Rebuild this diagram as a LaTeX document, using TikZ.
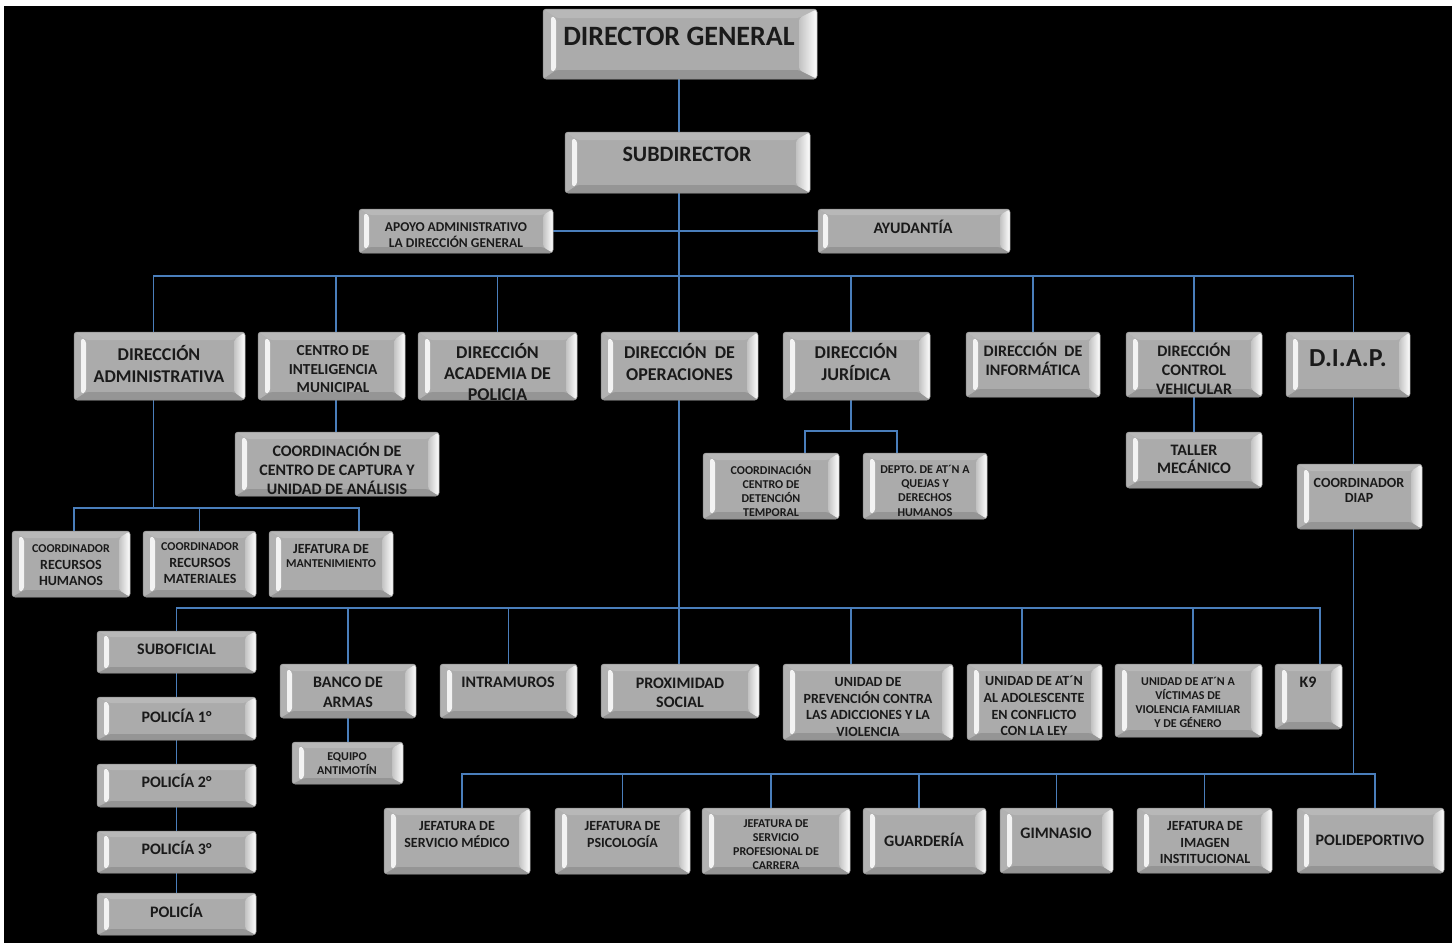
\documentclass[tikz,border=0pt]{standalone}
\usepackage{fontspec}
\setmainfont{Carlito}
\usetikzlibrary{calc}
\definecolor{lineblue}{HTML}{4A7EBB}
\definecolor{face}{HTML}{ABABAB}
\definecolor{bevtop}{HTML}{B8B8B8}
\definecolor{bevleft}{HTML}{B2B2B2}
\definecolor{bevbot}{HTML}{959595}
\definecolor{bevright}{HTML}{C2C2C2}
\definecolor{edge}{HTML}{8A8A8A}
\definecolor{ink}{HTML}{1A1A1A}
\pgfdeclarelayer{bgl}
\pgfdeclarelayer{lines}
\pgfsetlayers{bgl,lines,main}
\newcommand\fs[2]{\fontsize{#1}{#2}\selectfont\bfseries}
\newcommand\bx[6][]{\node[box,#1,minimum width={(#5-#3)*1pt},minimum height={(#6-#4)*1pt}] (#2) at ({(#3+#5)/2},{(#4+#6)/2}) {};}
\tikzset{
  bvl/.store in=\bvl, bvr/.store in=\bvr, bvt/.store in=\bvt, bvb/.store in=\bvb,
  bvl=12, bvr=11, bvt=7, bvb=7,
  box/.style={rectangle, rounded corners=3pt, inner sep=0pt, fill=face, draw=edge, line width=0.5pt,
    path picture={
      \fill[bevtop] (path picture bounding box.north west) -- (path picture bounding box.north east)
         -- ([shift={(-\bvr pt,-\bvt pt)}]path picture bounding box.north east)
         -- ([shift={(\bvl pt,-\bvt pt)}]path picture bounding box.north west) -- cycle;
      \fill[bevbot] (path picture bounding box.south west) -- (path picture bounding box.south east)
         -- ([shift={(-\bvr pt,\bvb pt)}]path picture bounding box.south east)
         -- ([shift={(\bvl pt,\bvb pt)}]path picture bounding box.south west) -- cycle;
      \fill[bevleft] (path picture bounding box.north west)
         -- ([shift={(\bvl pt,-\bvt pt)}]path picture bounding box.north west)
         -- ([shift={(\bvl pt,\bvb pt)}]path picture bounding box.south west)
         -- (path picture bounding box.south west) -- cycle;
      \shade[left color=bevright, right color=white] (path picture bounding box.north east)
         -- ([shift={(-\bvr pt,-\bvt pt)}]path picture bounding box.north east)
         -- ([shift={(-\bvr pt,\bvb pt)}]path picture bounding box.south east)
         -- (path picture bounding box.south east) -- cycle;
      \fill[white, opacity=0.85] ([shift={(\bvl pt-5pt,-\bvt pt+2pt)}]path picture bounding box.north west)
         -- ([shift={(\bvl pt,-\bvt pt)}]path picture bounding box.north west)
         -- ([shift={(\bvl pt,\bvb pt)}]path picture bounding box.south west)
         -- ([shift={(\bvl pt-5pt,\bvb pt-2pt)}]path picture bounding box.south west) -- cycle;
    }},
  txt/.style={text=ink, align=center, inner sep=0pt},
  conn/.style={draw=lineblue, line width=1.5pt},
}
\begin{document}
\begin{tikzpicture}[x=1pt,y=-1pt]
\useasboundingbox (0,0) rectangle (1456,943);
\begin{pgfonlayer}{bgl}
\fill[white] (0,0) rectangle (1456,943);
\fill[black] (4,6) rectangle (1452,943);
\end{pgfonlayer}
% ---------- boxes ----------
\bx[bvl=13,bvr=18,bvt=9,bvb=9]{dg}{543}{9}{817}{79}
\bx[bvl=12,bvr=14,bvt=8,bvb=8]{sub}{565}{132}{810}{193}
\bx[bvl=10,bvr=10,bvt=6,bvb=6]{apoyo}{359}{209}{553}{253}
\bx[bvl=10,bvr=10,bvt=6,bvb=6]{ayud}{818}{209}{1010}{253}
\bx[bvt=8,bvb=8]{admin}{74}{332}{245}{400}
\bx[bvt=8,bvb=8]{cim}{258}{332}{405}{400}
\bx[bvt=8,bvb=8]{acad}{418}{332}{577}{400}
\bx[bvt=8,bvb=8]{ope}{601}{332}{758}{400}
\bx[bvt=8,bvb=8]{jur}{783}{332}{930}{400}
\bx[bvt=8,bvb=8]{inf}{966}{332}{1100}{397}
\bx[bvt=8,bvb=8]{cv}{1126}{332}{1262}{397}
\bx[bvt=8,bvb=8]{diap}{1286}{332}{1410}{397}
\bx{ccc}{235}{432}{439}{496}
\bx{taller}{1126}{432}{1262}{488}
\bx{ccd}{703}{453}{839}{519}
\bx{depto}{863}{453}{987}{519}
\bx{cdiap}{1297}{464}{1422}{529}
\bx{rrhh}{12}{531}{130}{597}
\bx{rmat}{143}{531}{256}{597}
\bx{mant}{269}{531}{393}{597}
\bx[bvt=6,bvb=6]{subof}{97}{631}{256}{673}
\bx[bvt=6,bvb=6]{pa}{97}{697}{256}{740}
\bx[bvt=6,bvb=6]{pb}{97}{764}{256}{807}
\bx[bvt=6,bvb=6]{pc}{97}{831}{256}{873}
\bx[bvt=6,bvb=6]{pol}{97}{893}{256}{935}
\bx{banco}{280}{664}{416}{718}
\bx[bvt=6,bvb=6]{equipo}{292}{742}{403}{784}
\bx{intra}{440}{664}{577}{718}
\bx{prox}{601}{664}{759}{718}
\bx{prev}{783}{664}{953}{740}
\bx{adol}{967}{664}{1102}{740}
\bx{vict}{1115}{664}{1262}{737}
\bx{k9}{1275}{664}{1342}{729}
\bx{medico}{384}{808}{530}{874}
\bx{psico}{555}{808}{690}{874}
\bx{carrera}{702}{808}{850}{874}
\bx{guard}{863}{808}{986}{874}
\bx{gim}{1000}{808}{1113}{873}
\bx{imagen}{1137}{808}{1272}{873}
\bx{poli}{1297}{808}{1444}{873}
% ---------- texts ----------
\node[txt,font=\fs{28}{34}] (dg-t) at (679,36) {DIRECTOR GENERAL};
\node[txt,font=\fs{22}{26}] (sub-t) at (687,154) {SUBDIRECTOR};
\node[txt,font=\fs{13.5}{16}] (apoyo-t) at (456,235) {APOYO ADMINISTRATIVO\\LA DIRECCIÓN GENERAL};
\node[txt,font=\fs{16}{19}] (ayud-t) at (913,227) {AYUDANTÍA};
\node[txt,font=\fs{18}{22}] (admin-t) at (159,364) {DIRECCIÓN\\ADMINISTRATIVA};
\node[txt,font=\fs{15.3}{18.5}] (cim-t) at (333,369.5) {CENTRO DE\\INTELIGENCIA\\MUNICIPAL};
\node[txt,font=\fs{18}{21}] (acad-t) at (497.5,372) {DIRECCIÓN\\ACADEMIA DE\\POLICIA};
\node[txt,font=\fs{18}{22}] (ope-t) at (679.5,362) {DIRECCIÓN\ \ DE\\OPERACIONES};
\node[txt,font=\fs{18}{22}] (jur-t) at (856,362) {DIRECCIÓN\\JURÍDICA};
\node[txt,font=\fs{16}{19}] (inf-t) at (1033,359.5) {DIRECCIÓN\ \ DE\\INFORMÁTICA};
\node[txt,font=\fs{16}{19}] (cv-t) at (1194,369) {DIRECCIÓN\\CONTROL\\VEHICULAR};
\node[txt,font=\fs{26}{30}] (diap-t) at (1348,358) {D.I.A.P.};
\node[txt,font=\fs{16}{19}] (ccc-t) at (337,469) {COORDINACIÓN DE\\CENTRO DE CAPTURA Y\\UNIDAD DE ANÁLISIS};
\node[txt,font=\fs{16}{18}] (taller-t) at (1194,459) {TALLER\\MECÁNICO};
\node[txt,font=\fs{12}{14.3}] (ccd-t) at (771,490.5) {COORDINACIÓN\\CENTRO DE\\DETENCIÓN\\TEMPORAL};
\node[txt,font=\fs{12}{14.3}] (depto-t) at (925,490.5) {DEPTO. DE AT´N A\\QUEJAS Y\\DERECHOS\\HUMANOS};
\node[txt,font=\fs{14}{15.6}] (cdiap-t) at (1359,490.5) {COORDINADOR\\DIAP};
\node[txt,font=\fs{14}{16.5}] (rrhh-t) at (71,565.5) {{\fs{12}{16.5}COORDINADOR}\\RECURSOS\\HUMANOS};
\node[txt,font=\fs{14}{16.5}] (rmat-t) at (200,563.5) {{\fs{12}{16.5}COORDINADOR}\\RECURSOS\\MATERIALES};
\node[txt,font=\fs{14}{14}] (mant-t) at (331,556) {JEFATURA DE\\{\fs{12}{14}MANTENIMIENTO}};
\node[txt,font=\fs{16}{19}] (subof-t) at (176.5,649) {SUBOFICIAL};
\node[txt,font=\fs{16}{19}] (pa-t) at (176.5,716) {POLICÍA 1°};
\node[txt,font=\fs{16}{19}] (pb-t) at (176.5,781) {POLICÍA 2°};
\node[txt,font=\fs{16}{19}] (pc-t) at (176.5,848) {POLICÍA 3°};
\node[txt,font=\fs{16}{19}] (pol-t) at (176.5,911) {POLICÍA};
\node[txt,font=\fs{16}{20}] (banco-t) at (348,692) {BANCO DE\\ARMAS};
\node[txt,font=\fs{12}{14}] (equipo-t) at (347,764) {EQUIPO\\ANTIMOTÍN};
\node[txt,font=\fs{16}{19}] (intra-t) at (508,682) {INTRAMUROS};
\node[txt,font=\fs{16}{19}] (prox-t) at (680,692.5) {PROXIMIDAD\\SOCIAL};
\node[txt,font=\fs{14}{16.7}] (prev-t) at (868,707) {UNIDAD DE\\PREVENCIÓN CONTRA\\LAS ADICCIONES Y LA\\VIOLENCIA};
\node[txt,font=\fs{14}{16.7}] (adol-t) at (1034,706) {UNIDAD DE AT´N\\AL ADOLESCENTE\\EN CONFLICTO\\CON LA LEY};
\node[txt,font=\fs{12}{14}] (vict-t) at (1188,702) {UNIDAD DE AT´N A\\VÍCTIMAS DE\\VIOLENCIA FAMILIAR\\Y DE GÉNERO};
\node[txt,font=\fs{16}{19}] (k9-t) at (1308,682) {K9};
\node[txt,font=\fs{14}{17}] (medico-t) at (457,834.5) {JEFATURA DE\\SERVICIO MÉDICO};
\node[txt,font=\fs{14}{17}] (psico-t) at (622.5,834.5) {JEFATURA DE\\PSICOLOGÍA};
\node[txt,font=\fs{12}{14}] (carrera-t) at (776,845) {JEFATURA DE\\SERVICIO\\PROFESIONAL DE\\CARRERA};
\node[txt,font=\fs{16}{19}] (guard-t) at (924,840) {GUARDERÍA};
\node[txt,font=\fs{16}{19}] (gim-t) at (1056,833) {GIMNASIO};
\node[txt,font=\fs{14}{16.5}] (imagen-t) at (1205,842.5) {JEFATURA DE\\IMAGEN\\INSTITUCIONAL};
\node[txt,font=\fs{16}{19}] (poli-t) at (1370,840) {POLIDEPORTIVO};
% ---------- connector anchors ----------
\coordinate (spine) at (679,0);
\coordinate (bus1) at (0,276);
\coordinate (bus2) at (0,508);
\coordinate (bus3) at (0,608);
\coordinate (bus4) at (0,431);
\coordinate (bus5) at (0,774);
\coordinate (admin-in) at ([xshift=-6pt]admin.north);
\coordinate (admin-out) at ([xshift=-6pt]admin.south);
\coordinate (cim-in) at ([xshift=4.5pt]cim.north);
\coordinate (cim-out) at ([xshift=4.5pt]cim.south);
\coordinate (jur-in) at ([xshift=-5.5pt]jur.north);
\coordinate (jur-out) at ([xshift=-5.5pt]jur.south);
\coordinate (diap-in) at ([xshift=5.5pt]diap.north);
\coordinate (diap-out) at ([xshift=5.5pt]diap.south);
\coordinate (rrhh-in) at ([xshift=3pt]rrhh.north);
\coordinate (mant-in) at ([xshift=28pt]mant.north);
\coordinate (prev-in) at ([xshift=-17pt]prev.north);
\coordinate (adol-in) at ([xshift=-12.5pt]adol.north);
\coordinate (vict-in) at ([xshift=4.5pt]vict.north);
\coordinate (k9-in) at ([xshift=11.5pt]k9.north);
\coordinate (ccd-in) at ([xshift=34pt]ccd.north);
\coordinate (depto-in) at ([xshift=-28pt]depto.north);
\coordinate (medico-in) at ([xshift=5pt]medico.north);
\coordinate (carrera-in) at ([xshift=-5pt]carrera.north);
\coordinate (guard-in) at ([xshift=-5.5pt]guard.north);
\coordinate (poli-in) at ([xshift=4.5pt]poli.north);
% ---------- connectors ----------
\begin{pgfonlayer}{lines}
\draw[conn] (dg.south -| spine) -- (sub.north -| spine);
\draw[conn] (sub.south -| spine) -- (ope.north -| spine);
\draw[conn] (apoyo.east) -- (ayud.west);
\draw[conn] (admin-in) -- (admin-in |- bus1) -- (diap-in |- bus1) -- (diap-in);
\draw[conn] (cim-in) -- (cim-in |- bus1);
\draw[conn] (acad.north) -- (acad.north |- bus1);
\draw[conn] (jur-in) -- (jur-in |- bus1);
\draw[conn] (inf.north) -- (inf.north |- bus1);
\draw[conn] (cv.north) -- (cv.north |- bus1);
% administrativa
\draw[conn] (admin-out) -- (admin-out |- bus2);
\draw[conn] (rrhh-in) -- (rrhh-in |- bus2) -- (mant-in |- bus2) -- (mant-in);
\draw[conn] (rmat.north) -- (rmat.north |- bus2);
% inteligencia
\draw[conn] (cim-out) -- (cim-out |- ccc.north);
% operaciones
\draw[conn] (ope.south -| spine) -- (prox.north -| spine);
\draw[conn] (subof.north) -- (subof.north |- bus3) -- (k9-in |- bus3) -- (k9-in);
\draw[conn] (banco.north) -- (banco.north |- bus3);
\draw[conn] (intra.north) -- (intra.north |- bus3);
\draw[conn] (prev-in) -- (prev-in |- bus3);
\draw[conn] (adol-in) -- (adol-in |- bus3);
\draw[conn] (vict-in) -- (vict-in |- bus3);
\draw[conn] (subof.south) -- (pa.north);
\draw[conn] (pa.south) -- (pb.north);
\draw[conn] (pb.south) -- (pc.north);
\draw[conn] (pc.south) -- (pol.north);
\draw[conn] (banco.south) -- (banco.south |- equipo.north);
% juridica
\draw[conn] (jur-out) -- (jur-out |- bus4);
\draw[conn] (ccd-in) -- (ccd-in |- bus4) -- (depto-in |- bus4) -- (depto-in);
% control vehicular
\draw[conn] (cv.south) -- (taller.north);
% diap
\draw[conn] (diap-out) -- (diap-out |- cdiap.north);
\draw[conn] (diap-out |- cdiap.south) -- (diap-out |- bus5);
\draw[conn] (medico-in) -- (medico-in |- bus5) -- (poli-in |- bus5) -- (poli-in);
\draw[conn] (psico.north) -- (psico.north |- bus5);
\draw[conn] (carrera-in) -- (carrera-in |- bus5);
\draw[conn] (guard-in) -- (guard-in |- bus5);
\draw[conn] (gim.north) -- (gim.north |- bus5);
\draw[conn] (imagen.north) -- (imagen.north |- bus5);
\end{pgfonlayer}
\end{tikzpicture}
\end{document}
